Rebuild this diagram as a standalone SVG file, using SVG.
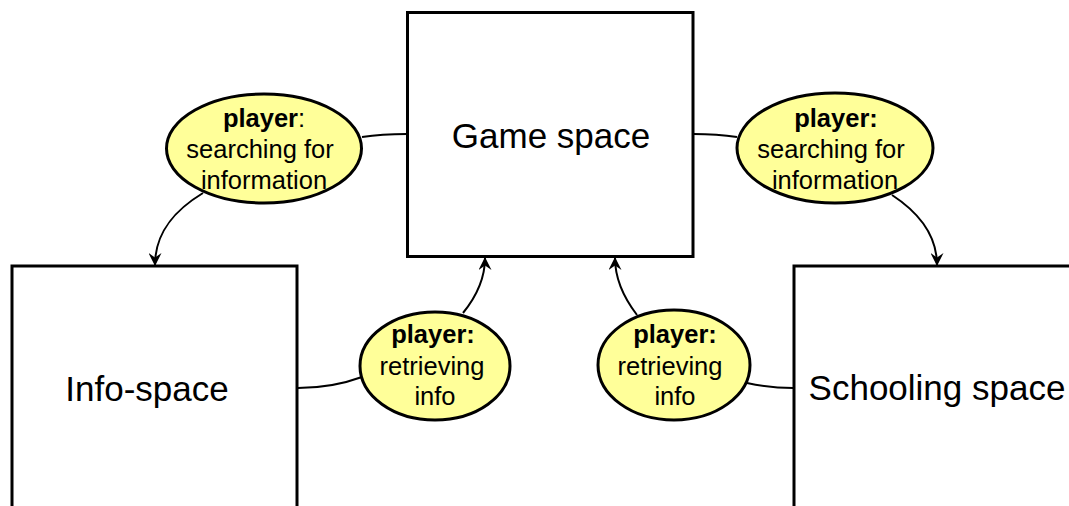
<svg xmlns="http://www.w3.org/2000/svg" width="1069" height="506" viewBox="0 0 1069 506">
  <style>
    .box { fill: #ffffff; stroke: #000000; stroke-width: 3; }
    .oval { fill: #ffff99; stroke: #000000; stroke-width: 3; }
    .edge { fill: none; stroke: #000000; stroke-width: 2; }
    .big { font-family: "Liberation Sans", Arial, sans-serif; font-size: 35px; fill: #000000; text-anchor: middle; }
    .small { font-family: "Liberation Sans", Arial, sans-serif; font-size: 25.5px; fill: #000000; text-anchor: middle; }
    .b { font-weight: bold; }
  </style>
  <defs>
    <marker id="arrow" viewBox="0 0 13 13" refX="12" refY="6.5" markerWidth="13" markerHeight="13" markerUnits="userSpaceOnUse" orient="auto">
      <path d="M0,0 L13,6.5 L0,13 L4.5,6.5 z" fill="#000000"/>
    </marker>
  </defs>

  <rect width="1069" height="506" fill="#ffffff"/>

  <g id="connectors">
    <!-- Game space to left "searching" oval, then down into Info-space -->
    <path class="edge" d="M407,134 C390,134 375,135 362,137"/>
    <path class="edge" d="M203,193 C175,210 155,232 155,265" marker-end="url(#arrow)"/>
    <!-- Game space to right "searching" oval, then down into Schooling space -->
    <path class="edge" d="M693,134 C710,134 724,135 737,137"/>
    <path class="edge" d="M892,195 C918,212 937,235 937,265" marker-end="url(#arrow)"/>
    <!-- Info-space to left "retrieving" oval, then up into Game space -->
    <path class="edge" d="M298,388 C322,388 343,384 362,377"/>
    <path class="edge" d="M463,313 C476,297 485,280 485,258" marker-end="url(#arrow)"/>
    <!-- Schooling space to right "retrieving" oval, then up into Game space -->
    <path class="edge" d="M793,388 C776,388 761,386 747,383"/>
    <path class="edge" d="M637,315 C624,298 615,280 615,258" marker-end="url(#arrow)"/>
  </g>

  <g id="game-space">
    <rect class="box" x="407.5" y="12.5" width="285.5" height="244"/>
    <text class="big" x="551" y="148">Game space</text>
  </g>

  <g id="info-space">
    <rect class="box" x="12" y="266" width="285" height="260"/>
    <text class="big" x="147" y="401">Info-space</text>
  </g>

  <g id="schooling-space">
    <rect class="box" x="794" y="266" width="300" height="260"/>
    <text class="big" x="937" y="400">Schooling space</text>
  </g>

  <g id="searching-left">
    <ellipse class="oval" cx="264" cy="148.5" rx="97.5" ry="54.5"/>
    <text class="small" x="264" y="127"><tspan class="b">player</tspan>:</text>
    <text class="small" x="260" y="158">searching for</text>
    <text class="small" x="264" y="189">information</text>
  </g>

  <g id="searching-right">
    <ellipse class="oval" cx="835" cy="148" rx="98" ry="55"/>
    <text class="small b" x="836" y="127">player:</text>
    <text class="small" x="831" y="158">searching for</text>
    <text class="small" x="835" y="189">information</text>
  </g>

  <g id="retrieving-left">
    <ellipse class="oval" cx="435" cy="366" rx="75" ry="54"/>
    <text class="small b" x="433" y="343">player:</text>
    <text class="small" x="432" y="375">retrieving</text>
    <text class="small" x="435" y="405">info</text>
  </g>

  <g id="retrieving-right">
    <ellipse class="oval" cx="674" cy="365" rx="76" ry="55"/>
    <text class="small b" x="675" y="343">player:</text>
    <text class="small" x="670" y="375">retrieving</text>
    <text class="small" x="675" y="405">info</text>
  </g>
</svg>
